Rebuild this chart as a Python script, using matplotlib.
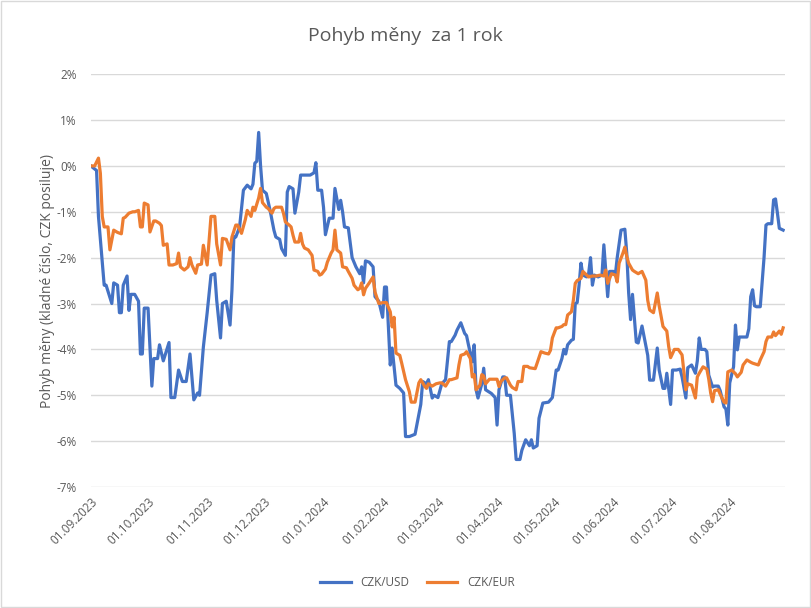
import matplotlib
matplotlib.use("Agg")
import matplotlib.pyplot as plt
import matplotlib.dates as mdates
import pandas as pd
from matplotlib.ticker import FuncFormatter

plt.rcParams['font.family'] = ['Open Sans', 'DejaVu Sans']

# CZK/USD - pohyb v % (kladne = CZK posiluje)
usd_dates = [
    '2023-09-01', '2023-09-04', '2023-09-05', '2023-09-08', '2023-09-09', '2023-09-12', '2023-09-13',
    '2023-09-15', '2023-09-16', '2023-09-17', '2023-09-18', '2023-09-20', '2023-09-21', '2023-09-22',
    '2023-09-24', '2023-09-26', '2023-09-27', '2023-09-28', '2023-09-29', '2023-10-01', '2023-10-03',
    '2023-10-04', '2023-10-06', '2023-10-07', '2023-10-09', '2023-10-12', '2023-10-13', '2023-10-15',
    '2023-10-17', '2023-10-19', '2023-10-21', '2023-10-23', '2023-10-25', '2023-10-27', '2023-10-28',
    '2023-10-30', '2023-11-01', '2023-11-03', '2023-11-05', '2023-11-06', '2023-11-08', '2023-11-09',
    '2023-11-11', '2023-11-13', '2023-11-14', '2023-11-15', '2023-11-16', '2023-11-18', '2023-11-20',
    '2023-11-22', '2023-11-24', '2023-11-25', '2023-11-26', '2023-11-27', '2023-11-28', '2023-11-29',
    '2023-11-30', '2023-12-02', '2023-12-04', '2023-12-06', '2023-12-07', '2023-12-09', '2023-12-10',
    '2023-12-12', '2023-12-13', '2023-12-14', '2023-12-16', '2023-12-17', '2023-12-19', '2023-12-20',
    '2023-12-23', '2023-12-25', '2023-12-27', '2023-12-28', '2023-12-29', '2023-12-31', '2024-01-01',
    '2024-01-02', '2024-01-04', '2024-01-06', '2024-01-07', '2024-01-09', '2024-01-10', '2024-01-11',
    '2024-01-12', '2024-01-14', '2024-01-16', '2024-01-18', '2024-01-20', '2024-01-21', '2024-01-22',
    '2024-01-23', '2024-01-25', '2024-01-27', '2024-01-28', '2024-01-30', '2024-02-01', '2024-02-02',
    '2024-02-03', '2024-02-04', '2024-02-05', '2024-02-06', '2024-02-08', '2024-02-10', '2024-02-12',
    '2024-02-13', '2024-02-15', '2024-02-18', '2024-02-21', '2024-02-22', '2024-02-24', '2024-02-25',
    '2024-02-27', '2024-02-28', '2024-03-01', '2024-03-03', '2024-03-05', '2024-03-07', '2024-03-08',
    '2024-03-10', '2024-03-11', '2024-03-13', '2024-03-15', '2024-03-16', '2024-03-17', '2024-03-19',
    '2024-03-20', '2024-03-21', '2024-03-22', '2024-03-24', '2024-03-25', '2024-03-26', '2024-03-29',
    '2024-03-31', '2024-04-01', '2024-04-02', '2024-04-04', '2024-04-05', '2024-04-06', '2024-04-08',
    '2024-04-10', '2024-04-11', '2024-04-13', '2024-04-14', '2024-04-16', '2024-04-18', '2024-04-19',
    '2024-04-20', '2024-04-22', '2024-04-23', '2024-04-25', '2024-04-28', '2024-04-29', '2024-04-30',
    '2024-05-02', '2024-05-03', '2024-05-05', '2024-05-06', '2024-05-07', '2024-05-08', '2024-05-10',
    '2024-05-11', '2024-05-12', '2024-05-13', '2024-05-14', '2024-05-15', '2024-05-16', '2024-05-18',
    '2024-05-19', '2024-05-20', '2024-05-21', '2024-05-22', '2024-05-24', '2024-05-26', '2024-05-27',
    '2024-05-28', '2024-05-29', '2024-05-30', '2024-06-01', '2024-06-02', '2024-06-03', '2024-06-05',
    '2024-06-07', '2024-06-08', '2024-06-09', '2024-06-10', '2024-06-11', '2024-06-13', '2024-06-14',
    '2024-06-16', '2024-06-17', '2024-06-19', '2024-06-20', '2024-06-22', '2024-06-24', '2024-06-25',
    '2024-06-27', '2024-06-28', '2024-06-29', '2024-07-01', '2024-07-02', '2024-07-04', '2024-07-06',
    '2024-07-07', '2024-07-09', '2024-07-10', '2024-07-12', '2024-07-14', '2024-07-15', '2024-07-16',
    '2024-07-17', '2024-07-19', '2024-07-20', '2024-07-21', '2024-07-23', '2024-07-24', '2024-07-26',
    '2024-07-27', '2024-07-29', '2024-07-30', '2024-07-31', '2024-08-01', '2024-08-03', '2024-08-04',
    '2024-08-05', '2024-08-06', '2024-08-07', '2024-08-08', '2024-08-10', '2024-08-11', '2024-08-12',
    '2024-08-13', '2024-08-14', '2024-08-15', '2024-08-17', '2024-08-19', '2024-08-20', '2024-08-21',
    '2024-08-23', '2024-08-24', '2024-08-25', '2024-08-26', '2024-08-27', '2024-08-29',
]
usd_vals = [
    0.0, -0.1, -1.1, -2.6, -2.6, -3.0, -2.55,
    -2.6, -3.2, -3.2, -2.6, -2.4, -3.15, -2.8,
    -2.8, -2.95, -4.1, -4.1, -3.1, -3.1, -4.8,
    -4.2, -4.2, -3.9, -4.25, -3.85, -5.05, -5.05,
    -4.45, -4.7, -4.7, -4.1, -5.1, -4.95, -5.0,
    -3.95, -3.2, -2.38, -2.35, -2.93, -3.75, -3.0,
    -2.95, -3.47, -2.7, -1.55, -1.55, -1.33, -0.53,
    -0.42, -0.5, -0.4, 0.06, 0.1, 0.73, 0.0,
    -0.53, -0.6, -0.97, -1.4, -1.55, -1.6, -1.8,
    -1.95, -0.57, -0.45, -0.5, -1.03, -0.57, -0.2,
    -0.2, -0.2, -0.15, 0.07, -0.53, -0.53, -0.9,
    -1.5, -1.14, -1.14, -0.49, -0.95, -0.75, -1.0,
    -1.33, -1.35, -2.0, -2.2, -2.35, -2.2, -2.55,
    -2.07, -2.1, -2.2, -2.85, -2.95, -3.3, -2.64,
    -2.64, -3.5, -4.34, -3.97, -4.78, -4.85, -4.95,
    -5.9, -5.9, -5.85, -5.2, -4.7, -4.75, -4.66,
    -5.06, -5.0, -5.05, -4.75, -4.66, -3.83, -3.83,
    -3.69, -3.58, -3.42, -3.65, -3.7, -3.9, -4.27,
    -3.9, -4.88, -5.06, -4.75, -4.41, -4.88, -4.96,
    -5.05, -5.65, -4.88, -4.6, -4.6, -5.0, -5.0,
    -5.83, -6.4, -6.4, -6.2, -5.97, -6.1, -5.97,
    -6.15, -6.1, -5.5, -5.17, -5.15, -5.1, -5.05,
    -4.45, -4.45, -4.2, -4.0, -4.1, -3.9, -3.8,
    -3.78, -3.0, -2.98, -2.6, -2.12, -2.38, -2.42,
    -2.35, -2.0, -2.6, -2.38, -2.42, -2.38, -1.72,
    -2.3, -2.85, -2.3, -2.3, -2.38, -2.0, -1.4,
    -1.38, -1.9, -2.77, -3.35, -2.8, -3.84, -3.86,
    -3.49, -3.7, -4.13, -4.67, -4.67, -3.97, -4.45,
    -4.85, -4.85, -4.52, -5.2, -4.45, -4.45, -4.43,
    -4.6, -5.06, -4.4, -4.34, -4.52, -4.25, -3.75,
    -4.0, -4.0, -4.05, -4.56, -4.82, -4.8, -4.8,
    -4.9, -5.25, -5.3, -5.65, -4.73, -4.38, -3.47,
    -4.01, -3.73, -3.73, -3.73, -3.73, -3.55, -2.85,
    -2.7, -3.05, -3.07, -3.07, -1.99, -1.29, -1.26,
    -1.26, -0.74, -0.72, -1.03, -1.36, -1.4,
]

# CZK/EUR - pohyb v %
eur_dates = [
    '2023-09-01', '2023-09-03', '2023-09-05', '2023-09-06', '2023-09-07', '2023-09-08', '2023-09-10',
    '2023-09-11', '2023-09-13', '2023-09-15', '2023-09-17', '2023-09-18', '2023-09-19', '2023-09-21',
    '2023-09-23', '2023-09-24', '2023-09-26', '2023-09-27', '2023-09-28', '2023-09-29', '2023-10-01',
    '2023-10-02', '2023-10-04', '2023-10-05', '2023-10-07', '2023-10-08', '2023-10-09', '2023-10-11',
    '2023-10-12', '2023-10-14', '2023-10-16', '2023-10-17', '2023-10-18', '2023-10-20', '2023-10-22',
    '2023-10-23', '2023-10-24', '2023-10-26', '2023-10-27', '2023-10-29', '2023-10-30', '2023-10-31',
    '2023-11-01', '2023-11-03', '2023-11-05', '2023-11-06', '2023-11-08', '2023-11-09', '2023-11-11',
    '2023-11-13', '2023-11-14', '2023-11-16', '2023-11-17', '2023-11-19', '2023-11-21', '2023-11-22',
    '2023-11-24', '2023-11-25', '2023-11-26', '2023-11-28', '2023-11-29', '2023-11-30', '2023-12-02',
    '2023-12-03', '2023-12-05', '2023-12-06', '2023-12-07', '2023-12-10', '2023-12-11', '2023-12-12',
    '2023-12-14', '2023-12-15', '2023-12-16', '2023-12-17', '2023-12-19', '2023-12-20', '2023-12-21',
    '2023-12-22', '2023-12-24', '2023-12-26', '2023-12-27', '2023-12-29', '2023-12-30', '2023-12-31',
    '2024-01-02', '2024-01-03', '2024-01-05', '2024-01-06', '2024-01-07', '2024-01-08', '2024-01-10',
    '2024-01-11', '2024-01-13', '2024-01-14', '2024-01-16', '2024-01-17', '2024-01-19', '2024-01-20',
    '2024-01-21', '2024-01-22', '2024-01-23', '2024-01-25', '2024-01-27', '2024-01-28', '2024-01-30',
    '2024-02-01', '2024-02-02', '2024-02-03', '2024-02-05', '2024-02-06', '2024-02-07', '2024-02-08',
    '2024-02-10', '2024-02-11', '2024-02-13', '2024-02-15', '2024-02-16', '2024-02-18', '2024-02-20',
    '2024-02-21', '2024-02-23', '2024-02-24', '2024-02-25', '2024-02-27', '2024-02-29', '2024-03-02',
    '2024-03-03', '2024-03-05', '2024-03-07', '2024-03-08', '2024-03-11', '2024-03-12', '2024-03-13',
    '2024-03-15', '2024-03-16', '2024-03-18', '2024-03-19', '2024-03-20', '2024-03-21', '2024-03-23',
    '2024-03-24', '2024-03-25', '2024-03-26', '2024-03-28', '2024-03-30', '2024-04-01', '2024-04-02',
    '2024-04-03', '2024-04-05', '2024-04-06', '2024-04-08', '2024-04-09', '2024-04-11', '2024-04-12',
    '2024-04-14', '2024-04-15', '2024-04-17', '2024-04-18', '2024-04-21', '2024-04-22', '2024-04-24',
    '2024-04-26', '2024-04-28', '2024-04-29', '2024-04-30', '2024-05-02', '2024-05-03', '2024-05-05',
    '2024-05-06', '2024-05-07', '2024-05-08', '2024-05-10', '2024-05-11', '2024-05-12', '2024-05-13',
    '2024-05-15', '2024-05-16', '2024-05-18', '2024-05-19', '2024-05-21', '2024-05-23', '2024-05-25',
    '2024-05-27', '2024-05-28', '2024-05-29', '2024-05-31', '2024-06-02', '2024-06-03', '2024-06-04',
    '2024-06-06', '2024-06-07', '2024-06-08', '2024-06-09', '2024-06-11', '2024-06-12', '2024-06-14',
    '2024-06-16', '2024-06-18', '2024-06-19', '2024-06-20', '2024-06-22', '2024-06-24', '2024-06-25',
    '2024-06-27', '2024-06-29', '2024-06-30', '2024-07-01', '2024-07-03', '2024-07-05', '2024-07-07',
    '2024-07-08', '2024-07-09', '2024-07-10', '2024-07-12', '2024-07-14', '2024-07-15', '2024-07-16',
    '2024-07-18', '2024-07-20', '2024-07-21', '2024-07-22', '2024-07-23', '2024-07-24', '2024-07-26',
    '2024-07-27', '2024-07-29', '2024-07-30', '2024-07-31', '2024-08-02', '2024-08-04', '2024-08-05',
    '2024-08-07', '2024-08-08', '2024-08-10', '2024-08-12', '2024-08-13', '2024-08-16', '2024-08-17',
    '2024-08-19', '2024-08-20', '2024-08-21', '2024-08-23', '2024-08-24', '2024-08-25', '2024-08-27',
    '2024-08-28', '2024-08-29',
]
eur_vals = [
    0.0, 0.0, 0.17, -0.16, -1.1, -1.33, -1.33,
    -1.83, -1.4, -1.45, -1.48, -1.14, -1.12, -1.03,
    -1.0, -1.0, -0.97, -1.33, -1.33, -0.81, -0.85,
    -1.44, -1.2, -1.2, -1.25, -1.3, -1.73, -1.7,
    -2.16, -2.16, -2.13, -1.9, -2.2, -2.27, -2.2,
    -2.0, -2.16, -2.34, -2.16, -2.14, -1.73, -1.95,
    -2.16, -1.1, -1.1, -1.7, -2.16, -1.58, -1.6,
    -1.83, -1.55, -1.29, -1.29, -1.47, -1.17, -0.97,
    -1.1, -0.9, -0.97, -0.7, -0.49, -0.8, -0.9,
    -0.93, -1.03, -0.93, -0.9, -0.9, -1.03, -1.22,
    -1.29, -1.33, -1.51, -1.66, -1.66, -1.47, -1.7,
    -1.79, -1.83, -1.95, -2.27, -2.3, -2.38, -2.36,
    -2.25, -2.1, -1.9, -1.83, -1.4, -1.83, -1.9,
    -2.2, -2.22, -2.3, -2.45, -2.6, -2.7, -2.67,
    -2.55, -2.81, -2.67, -2.55, -2.42, -2.75, -3.0,
    -2.98, -2.98, -2.98, -3.18, -3.51, -3.3, -4.08,
    -4.13, -4.3, -4.66, -4.92, -5.15, -5.15, -4.73,
    -4.66, -4.8, -4.85, -4.75, -4.8, -4.75, -4.73,
    -4.73, -4.8, -4.66, -4.66, -4.62, -4.34, -4.13,
    -4.1, -4.05, -4.2, -4.6, -4.55, -4.88, -4.78,
    -4.55, -4.58, -4.75, -4.65, -4.65, -4.65, -4.81,
    -4.7, -4.62, -4.62, -4.78, -4.83, -4.88, -4.7,
    -4.7, -4.37, -4.37, -4.4, -4.42, -4.3, -4.05,
    -4.08, -4.1, -4.02, -3.75, -3.53, -3.53, -3.5,
    -3.46, -3.46, -3.25, -3.18, -2.93, -2.56, -2.5,
    -2.45, -2.3, -2.38, -2.42, -2.4, -2.4, -2.38,
    -2.4, -2.27, -2.56, -2.35, -2.38, -2.53, -2.12,
    -1.9, -1.77, -1.97, -2.12, -2.27, -2.3, -2.35,
    -2.3, -2.49, -2.93, -3.14, -3.2, -2.77, -3.05,
    -3.5, -3.6, -3.94, -4.18, -4.0, -4.0, -4.12,
    -4.5, -4.88, -4.75, -4.78, -5.06, -4.6, -4.52,
    -4.38, -4.43, -4.65, -4.95, -5.14, -4.9, -4.88,
    -4.98, -5.15, -5.17, -4.49, -4.45, -4.53, -4.6,
    -4.5, -4.34, -4.23, -4.28, -4.3, -4.34, -4.23,
    -4.05, -3.83, -3.73, -3.73, -3.62, -3.7, -3.6,
    -3.67, -3.53,
]

month_ticks = pd.date_range('2023-09-01', '2024-08-01', freq='MS')

usd_x = pd.to_datetime(usd_dates)
eur_x = pd.to_datetime(eur_dates)

fig = plt.figure(figsize=(8.11, 6.08), dpi=100)
ax = fig.add_axes([0.112, 0.199, 0.856, 0.679])

ax.plot(usd_x, usd_vals, color='#4472C4', lw=2.3, label='CZK/USD', solid_joinstyle='round')
ax.plot(eur_x, eur_vals, color='#ED7D31', lw=2.3, label='CZK/EUR', solid_joinstyle='round')

ax.set_ylim(-7, 2)
ax.set_yticks(range(-7, 3))
ax.yaxis.set_major_formatter(FuncFormatter(lambda v, p: '%d%%' % v))
ax.set_xlim(pd.Timestamp('2023-09-01'), pd.Timestamp('2024-08-30'))
ax.set_xticks(month_ticks)
ax.xaxis.set_major_formatter(mdates.DateFormatter('%d.%m.%Y'))
plt.setp(ax.get_xticklabels(), rotation=45, ha='right', rotation_mode='anchor')

ax.grid(axis='y', color='#D9D9D9', lw=1)
ax.set_axisbelow(True)
for s in ax.spines.values():
    s.set_visible(False)
ax.tick_params(axis='both', length=0, colors='#595959', labelsize=8.5)
ax.tick_params(axis='y', pad=10)
ax.tick_params(axis='x', pad=6)

ax.set_ylabel('Pohyb měny (kladné číslo, CZK posiluje)', color='#595959', fontsize=10, labelpad=1)
fig.suptitle('Pohyb měny  za 1 rok', x=0.5, y=0.955, fontsize=14, color='#595959')

ax.legend(loc='upper center', bbox_to_anchor=(0.47, -0.19), ncol=2, frameon=False,
          fontsize=8.5, labelcolor='#595959', handlelength=2.6, columnspacing=1.5)

# ramecek grafu
fig.patches.append(plt.Rectangle((0.001, 0.002), 0.998, 0.996, transform=fig.transFigure,
                                 fill=False, edgecolor='#D9D9D9', lw=1))

fig.savefig('out.png', dpi=100)
